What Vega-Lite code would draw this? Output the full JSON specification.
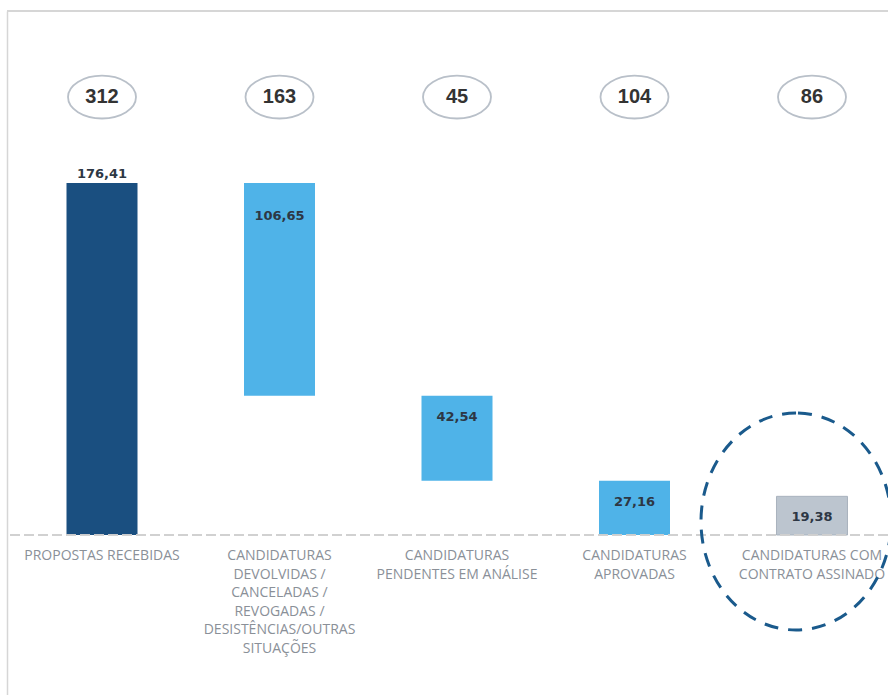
{
  "$schema": "https://vega.github.io/schema/vega-lite/v6.json",
  "width": 881,
  "height": 684,
  "autosize": {"type": "none"},
  "padding": {"left": 7, "top": 11, "right": 0, "bottom": 0},
  "background": "white",
  "config": {
    "view": {"stroke": null},
    "locale": {"number": {"decimal": ",", "thousands": ".", "grouping": [3], "currency": ["€", ""]}}
  },
  "data": {
    "values": [
      {"etapa": "PROPOSTAS RECEBIDAS", "rotulo": "PROPOSTAS RECEBIDAS", "grupo": "total", "inicio": 0, "fim": 176.41, "valor": 176.41, "n": 312},
      {"etapa": "CANDIDATURAS DEVOLVIDAS", "rotulo": "CANDIDATURAS\nDEVOLVIDAS /\nCANCELADAS /\nREVOGADAS /\nDESISTÊNCIAS/OUTRAS\nSITUAÇÕES", "grupo": "etapa", "inicio": 69.76, "fim": 176.41, "valor": 106.65, "n": 163},
      {"etapa": "CANDIDATURAS PENDENTES", "rotulo": "CANDIDATURAS\nPENDENTES EM ANÁLISE", "grupo": "etapa", "inicio": 27.22, "fim": 69.76, "valor": 42.54, "n": 45},
      {"etapa": "CANDIDATURAS APROVADAS", "rotulo": "CANDIDATURAS\nAPROVADAS", "grupo": "etapa", "inicio": 0, "fim": 27.16, "valor": 27.16, "n": 104},
      {"etapa": "CANDIDATURAS COM CONTRATO", "rotulo": "CANDIDATURAS COM\nCONTRATO ASSINADO", "grupo": "contrato", "inicio": 0, "fim": 19.38, "valor": 19.38, "n": 86}
    ]
  },
  "encoding": {
    "x": {
      "field": "etapa", "type": "nominal", "sort": null, "axis": null,
      "scale": {"paddingInner": 0.6, "paddingOuter": 0.2817, "align": 0.595}
    }
  },
  "layer": [
    {
      "mark": {"type": "rule", "color": "#d6d6d6", "strokeWidth": 1.5},
      "encoding": {"x": null, "y": {"datum": 262.66, "type": "quantitative"}}
    },
    {
      "mark": {"type": "bar", "strokeWidth": 1},
      "encoding": {
        "y": {
          "field": "inicio", "type": "quantitative",
          "scale": {"domain": [-80.2, 262.66], "nice": false, "zero": false},
          "axis": {"domain": true, "domainColor": "#d6d6d6", "domainWidth": 1.5, "ticks": false, "labels": false, "grid": false, "title": null}
        },
        "y2": {"field": "fim"},
        "color": {
          "field": "grupo", "type": "nominal", "legend": null,
          "scale": {"domain": ["total", "etapa", "contrato"], "range": ["#1a4f80", "#4fb3e8", "#bcc5cf"]}
        },
        "stroke": {"condition": {"test": "datum.grupo === 'contrato'", "value": "#a9b3be"}, "value": null}
      }
    },
    {
      "mark": {"type": "rule", "color": "#cfcfcf", "strokeWidth": 1.2, "strokeDash": [10, 4]},
      "encoding": {"x": null, "y": {"datum": 0, "type": "quantitative"}}
    },
    {
      "transform": [{"filter": "datum.grupo === 'total'"}],
      "mark": {"type": "text", "font": "DejaVu Sans", "fontWeight": "bold", "fontSize": 13, "color": "#2d3744", "baseline": "bottom", "dy": -2},
      "encoding": {
        "y": {"field": "fim", "type": "quantitative"},
        "text": {"field": "valor", "type": "quantitative", "format": ",.2f"}
      }
    },
    {
      "transform": [{"filter": "datum.etapa === 'CANDIDATURAS DEVOLVIDAS'"}],
      "mark": {"type": "text", "font": "DejaVu Sans", "fontWeight": "bold", "fontSize": 13, "color": "#2d3744", "baseline": "middle", "dy": 33},
      "encoding": {
        "y": {"field": "fim", "type": "quantitative"},
        "text": {"field": "valor", "type": "quantitative", "format": ",.2f"}
      }
    },
    {
      "transform": [{"filter": "datum.grupo !== 'total' && datum.etapa !== 'CANDIDATURAS DEVOLVIDAS'"}],
      "mark": {"type": "text", "font": "DejaVu Sans", "fontWeight": "bold", "fontSize": 13, "color": "#2d3744", "baseline": "middle", "dy": 21},
      "encoding": {
        "y": {"field": "fim", "type": "quantitative"},
        "text": {"field": "valor", "type": "quantitative", "format": ",.2f"}
      }
    },
    {
      "mark": {"type": "text", "font": "Open Sans", "fontSize": 14, "color": "#8a9098", "baseline": "top", "dy": 14, "lineBreak": "\n", "lineHeight": 18.5, "align": "center"},
      "encoding": {
        "y": {"datum": 0, "type": "quantitative"},
        "text": {"field": "rotulo"}
      }
    },
    {
      "mark": {"type": "point", "shape": "M -1 0 A 1 0.63 0 1 1 1 0 A 1 0.63 0 1 1 -1 0 Z", "size": 4624, "filled": true, "fill": "white", "stroke": "#b9c0c9", "strokeWidth": 1.8, "opacity": 1},
      "encoding": {"y": {"datum": 219.5, "type": "quantitative"}}
    },
    {
      "mark": {"type": "text", "font": "Liberation Sans", "fontWeight": "bold", "fontSize": 20, "color": "#333333", "baseline": "middle"},
      "encoding": {
        "y": {"datum": 219.5, "type": "quantitative"},
        "text": {"field": "n", "type": "quantitative"}
      }
    },
    {
      "transform": [{"filter": "datum.grupo === 'contrato'"}],
      "mark": {"type": "point", "shape": "M -0.147 -1 A 0.876 1 0 1 0 -0.147 1 A 0.876 1 0 1 0 -0.147 -1 Z", "size": 47089, "filled": false, "stroke": "#1a5a8c", "strokeWidth": 3, "strokeDash": [14, 10], "opacity": 1},
      "encoding": {"y": {"datum": 6.77, "type": "quantitative"}}
    }
  ]
}
